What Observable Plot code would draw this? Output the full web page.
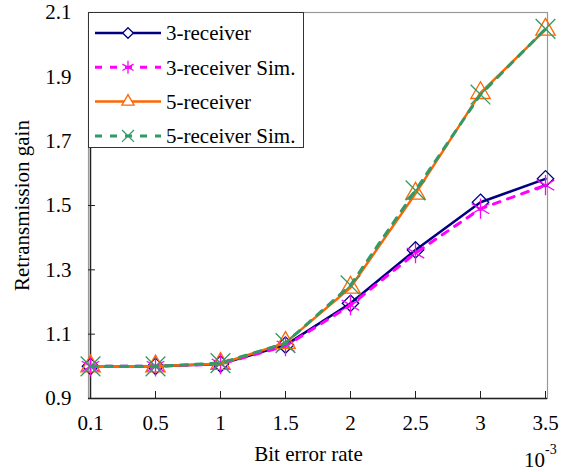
<!DOCTYPE html>
<html>
<head>
<meta charset="utf-8">
<script src="https://cdn.jsdelivr.net/npm/d3@7"></script>
<script src="https://cdn.jsdelivr.net/npm/@observablehq/plot@0.6"></script>
<style>
  html, body { margin: 0; padding: 0; background: #fff; }
  #wrap { position: relative; width: 574px; height: 472px; font-family: "Liberation Serif", "Times New Roman", serif; }
  #legend { position: absolute; left: 88px; top: 12px; width: 216px; height: 136px; border: 1px solid #333; background: #fff; box-sizing: border-box; }
  #exp { position: absolute; left: 524px; top: 450px; font-size: 21px; line-height: 21px; color: #000; white-space: nowrap; }
  #exp sup { font-size: 14px; line-height: 0; vertical-align: 0; position: relative; top: -13px; }
</style>
</head>
<body>
<div id="wrap"></div>
<script>
// ---- data ----
const xLabels = ["0.1", "0.5", "1", "1.5", "2", "2.5", "3", "3.5"];
const yTicks = [0.9, 1.1, 1.3, 1.5, 1.7, 1.9, 2.1];
const seriesNames = ["3-receiver", "3-receiver Sim.", "5-receiver", "5-receiver Sim."];
const recv3 = [1.000, 1.000, 1.007, 1.066, 1.196, 1.362, 1.510, 1.583];
const recv3Sim = [1.000, 1.000, 1.007, 1.063, 1.190, 1.352, 1.490, 1.563];
const recv5 = [1.000, 1.000, 1.008, 1.073, 1.245, 1.537, 1.850, 2.047];
const recv5Sim = [1.000, 1.000, 1.010, 1.072, 1.252, 1.547, 1.845, 2.049];
const xTitle = "Bit error rate";
const yTitle = "Retransmission gain";

// ---- styles ----
const styles = [
  {stroke: "#000080", width: 2.5, dash: null, symbol: "diamond2", r: 7.4, lr: 4.8},
  {stroke: "#FF00FF", width: 3, dash: "7,8", symbol: "asterisk", r: 9.6, lr: 6.1},
  {stroke: "#FF6600", width: 2.5, dash: null, symbol: "triangle", r: 7.2, lr: 4.5},
  {stroke: "#339966", width: 3, dash: "7,8", symbol: "times", r: 9, lr: 5.5}
];
const allSeries = [recv3, recv3Sim, recv5, recv5Sim];
const tables = allSeries.map((vals, i) => xLabels.map((x, j) => ({x, y: vals[j], s: seriesNames[i]})));

const marks = [
  Plot.frame({stroke: "#999", strokeWidth: 1.2}),
  Plot.ruleX([xLabels[0]], {stroke: "#222", strokeWidth: 1.5}),
  Plot.ruleY([yTicks[0]], {stroke: "#222", strokeWidth: 1.5}),
  Plot.axisY({ticks: yTicks, tickSize: -7, tickPadding: 24, tickFormat: d => d.toFixed(1), stroke: "#222", fill: "#000"}),
  Plot.axisX({tickSize: -7, tickPadding: 24, stroke: "#222", fill: "#000", label: null}),
  Plot.text([yTitle], {frameAnchor: "left", textAnchor: "middle", dx: -66, rotate: -90, text: d => d, fill: "#000", fontSize: 21}),
  Plot.text([xTitle], {frameAnchor: "bottom", textAnchor: "middle", dx: -9.5, dy: 62, text: d => d, fill: "#000", fontSize: 21})
];
tables.forEach((t, i) => {
  const st = styles[i];
  marks.push(Plot.line(t, {x: "x", y: "y", stroke: st.stroke, strokeWidth: st.width, strokeDasharray: st.dash, curve: "linear"}));
  marks.push(Plot.dot(t, {x: "x", y: "y", symbol: st.symbol, r: st.r, stroke: st.stroke, strokeWidth: 1.3, fill: "none"}));
});

const chart = Plot.plot({
  width: 574,
  height: 472,
  marginLeft: 88,
  marginRight: 27,
  marginTop: 12,
  marginBottom: 74,
  style: {fontFamily: "'Liberation Serif', 'Times New Roman', serif", fontSize: "21px", color: "#000", background: "#fff"},
  x: {type: "point", domain: xLabels, padding: 0, label: null},
  y: {domain: [0.9, 2.1], label: null},
  marks
});
const wrap = document.getElementById("wrap");
wrap.appendChild(chart);

// ---- legend ----
const legend = document.createElement("div");
legend.id = "legend";
wrap.appendChild(legend);
const ls = d3.select(legend).append("svg").attr("width", 214).attr("height", 134).style("display", "block");
const symMap = {diamond2: d3.symbolDiamond2, asterisk: d3.symbolAsterisk, triangle: d3.symbolTriangle, times: d3.symbolTimes};
seriesNames.forEach((name, i) => {
  const st = styles[i];
  const cy = 20 + i * 34.3;
  ls.append("line").attr("x1", 6).attr("x2", 72).attr("y1", cy).attr("y2", cy)
    .attr("stroke", st.stroke).attr("stroke-width", st.width).attr("stroke-dasharray", st.dash);
  ls.append("path").attr("transform", `translate(39,${cy})`)
    .attr("d", d3.symbol(symMap[st.symbol], st.lr * st.lr * Math.PI)())
    .attr("fill", st.symbol === "diamond2" || st.symbol === "triangle" ? "#fff" : "none")
    .attr("stroke", st.stroke).attr("stroke-width", 1.3);
  ls.append("text").attr("x", 77).attr("y", cy).attr("dy", "0.35em")
    .attr("font-family", "'Liberation Serif', 'Times New Roman', serif").attr("font-size", 21).attr("fill", "#000").text(name);
});

// ---- exponent label ----
const exp = document.createElement("div");
exp.id = "exp";
exp.innerHTML = "10<sup>-3</sup>";
wrap.appendChild(exp);
</script>
</body>
</html>
